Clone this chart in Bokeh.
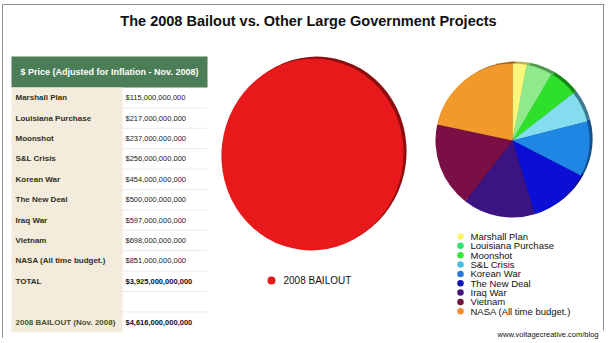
import numpy as np
from bokeh.plotting import figure
from bokeh.models import Range1d
from bokeh.core.properties import value
from bokeh.embed import file_html
from bokeh.resources import INLINE

# ---------------- data ----------------
title = "The 2008 Bailout vs. Other Large Government Projects"
table_header = "$ Price (Adjusted for Inflation - Nov. 2008)"
projects = ["Marshall Plan", "Louisiana Purchase", "Moonshot", "S&L Crisis",
            "Korean War", "The New Deal", "Iraq War", "Vietnam",
            "NASA (All time budget.)"]
costs_bn = [115, 217, 237, 256, 454, 500, 597, 698, 851]
total_label = "TOTAL"
bailout_label = "2008 BAILOUT (Nov. 2008)"
bailout_bn = 4616
bailout_legend = "2008 BAILOUT"
source_note = "www.voltagecreative.com/blog"

slice_colors = ["#fdf67c", "#8fea8c", "#2fe02a", "#84dcef", "#1f86e3",
                "#0b0fd6", "#3b1482", "#7a0f45", "#f2992c"]
rim_colors = ["#b9b34a", "#4f9a4c", "#178a14", "#3f7a90", "#154f8a",
              "#080a80", "#24094f", "#4a0829", "#a0621a"]
legend_colors = ["#fbf76a", "#37df74", "#38e63a", "#48bde4", "#2a78d9",
                 "#1110b6", "#451378", "#741244", "#ec8a34"]
bailout_color = "#e8191b"
bailout_rim = "#8c0e0e"

FONT = value("Liberation Sans")
W, H = 612, 343


def Y(y):
    return H - y


def money(bn):
    return "${:,}".format(bn * 1_000_000_000)


p = figure(width=W, height=H, x_range=Range1d(0, W), y_range=Range1d(0, H),
           output_backend="svg", toolbar_location=None, min_border=0)
p.axis.visible = False
p.grid.visible = False
p.outline_line_color = None
p.background_fill_color = "white"
p.border_fill_color = "white"

# frame
p.multi_line(xs=[[2, 604], [2, 2], [603, 603]],
             ys=[[Y(4), Y(4)], [Y(4), Y(337)], [Y(4), Y(330)]],
             line_color="#8c8c8c", line_width=1)

# title
p.text(x=[308], y=[Y(20)], text=[title], text_font=FONT, text_font_style="bold",
       text_font_size="14.5px", text_align="center", text_baseline="middle",
       text_color="#111111")

# ---------------- table ----------------
tx0, tx1, tsplit = 11, 207, 122
hy0, hy1 = 56, 87
rh = 20.4
labels_all = projects + [total_label, "", bailout_label]
vals_all = [money(v) for v in costs_bn] + [money(sum(costs_bn)), "", money(bailout_bn)]
bold_vals = [False] * len(projects) + [True, False, True]
n = len(labels_all)

p.quad(left=[tx0], right=[tx1], top=[Y(hy0)], bottom=[Y(hy1)],
       fill_color="#4b7d57", line_color=None)
p.text(x=[(tx0 + tx1) / 2], y=[Y((hy0 + hy1) / 2)], text=[table_header],
       text_font=FONT, text_font_style="bold", text_font_size="9px",
       text_align="center", text_baseline="middle", text_color="white")
p.quad(left=[tx0], right=[tsplit], top=[Y(hy1)], bottom=[Y(hy1 + n * rh)],
       fill_color="#f3ecdc", line_color=None)
sep_y = [Y(hy1 + i * rh) for i in range(1, n)]
p.multi_line(xs=[[tsplit, tx1]] * len(sep_y), ys=[[y, y] for y in sep_y],
             line_color="#ebebeb", line_width=1)

row_y = [Y(hy1 + (i + 0.5) * rh) for i in range(n)]
label_colors = ["#2f2f25"] * (n - 1) + ["#4f4f2a"]
p.text(x=[15] * n, y=row_y, text=labels_all, text_font=FONT,
       text_font_style="bold", text_font_size="8px", text_baseline="middle",
       text_color=label_colors)
nb = [i for i in range(n) if not bold_vals[i]]
bb = [i for i in range(n) if bold_vals[i]]
p.text(x=[125] * len(nb), y=[row_y[i] for i in nb], text=[vals_all[i] for i in nb],
       text_font=FONT, text_font_size="7.5px", text_baseline="middle",
       text_color="#222222")
p.text(x=[125] * len(bb), y=[row_y[i] for i in bb], text=[vals_all[i] for i in bb],
       text_font=FONT, text_font_style="bold", text_font_size="7.5px",
       text_baseline="middle", text_color="#111111")

# ---------------- big pie (bailout) ----------------
bx, by = 312, 154
p.ellipse(x=[bx + 3], y=[Y(by - 2)], width=182, height=192, angle=-0.12,
          fill_color=bailout_rim, line_color=None)
p.ellipse(x=[bx], y=[Y(by)], width=182, height=192, angle=-0.12,
          fill_color=bailout_color, line_color=None)
p.scatter(x=[271], y=[Y(280)], size=8, fill_color=bailout_color, line_color=None)
p.text(x=[283], y=[Y(280)], text=[bailout_legend], text_font=FONT,
       text_font_size="10px", text_baseline="middle", text_color="#111111")

# ---------------- small pie ----------------
vals = np.array(costs_bn, dtype=float)
frac = np.concatenate([[0], np.cumsum(vals) / vals.sum()])
starts = np.pi / 2 - frac[:-1] * 2 * np.pi
ends = np.pi / 2 - frac[1:] * 2 * np.pi
sx, sy, sr = 512, 140, 77
p.wedge(x=sx + 3, y=Y(sy - 2), radius=sr, start_angle=starts, end_angle=ends,
        direction="clock", fill_color=rim_colors, line_color=None)
p.wedge(x=sx, y=Y(sy), radius=sr, start_angle=starts, end_angle=ends,
        direction="clock", fill_color=slice_colors, line_color=None)

# legend for small pie
ly = [Y(236 + i * 9.35) for i in range(len(projects))]
p.scatter(x=[460] * len(projects), y=ly, size=6.5, fill_color=legend_colors,
          line_color=None)
p.text(x=[470] * len(projects), y=ly, text=projects, text_font=FONT,
       text_font_size="9.5px", text_baseline="middle", text_color="#111111")

p.text(x=[598], y=[Y(334)], text=[source_note], text_font=FONT,
       text_font_size="7.5px", text_align="right", text_baseline="middle",
       text_color="#111111")

open("out.html", "w").write(file_html(p, INLINE))
